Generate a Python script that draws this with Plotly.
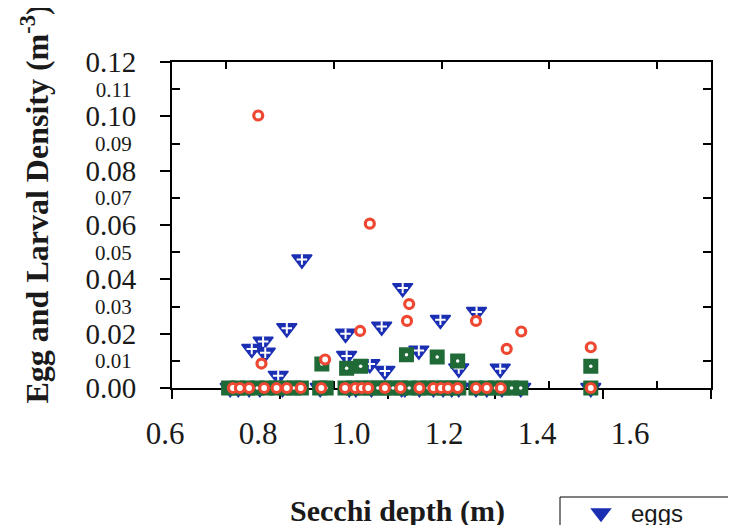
import plotly.graph_objects as go

# ---------------- data ----------------
# Eggs (blue down-triangles)
egg_secchi = [0.748, 0.769, 0.773, 0.797, 0.813, 0.841, 0.922, 0.924, 0.967, 0.989,
              0.995, 1.028, 1.058, 1.098, 1.132, 1.165, 1.209,
              0.708, 0.723, 0.743, 0.763, 0.805, 0.875, 0.929, 0.941, 0.970, 1.026,
              1.032, 1.059, 1.085, 1.103, 1.119, 1.132, 1.164, 1.184, 1.212, 1.247, 1.377]
egg_density = [0.0144, 0.0171, 0.0130, 0.0045, 0.0220, 0.0473, 0.0200, 0.0118, 0.0088, 0.0226,
               0.0063, 0.0368, 0.0138, 0.0251, 0.0072, 0.0280, 0.0071,
               0, 0, 0, 0, 0, 0, 0, 0, 0, 0,
               0, 0, 0, 0, 0, 0, 0, 0, 0, 0, 0]

# Green squares
sq_secchi = [0.878, 0.924, 0.950, 1.035, 1.092, 1.130, 1.377,
             0.705, 0.722, 0.740, 0.758, 0.776, 0.794, 0.810, 0.826, 0.840, 0.874, 0.886,
             0.921, 0.937, 0.952, 0.967, 0.982, 0.995, 1.010, 1.024, 1.040, 1.059, 1.075,
             1.090, 1.105, 1.118, 1.132, 1.164, 1.184, 1.200, 1.215, 1.230, 1.247, 1.377]
sq_density = [0.0088, 0.0073, 0.0080, 0.0122, 0.0114, 0.0099, 0.0080,
              0, 0, 0, 0, 0, 0, 0, 0, 0, 0, 0,
              0, 0, 0, 0, 0, 0, 0, 0, 0, 0, 0,
              0, 0, 0, 0, 0, 0, 0, 0, 0, 0, 0]

# Red open circles
circ_secchi = [0.760, 0.766, 0.884, 0.949, 0.967, 1.036, 1.040, 1.164, 1.221, 1.248, 1.377,
               0.713, 0.726, 0.743, 0.771, 0.794, 0.813, 0.839, 0.877, 0.921, 0.940, 0.952,
               0.964, 0.995, 1.024, 1.059, 1.085, 1.099, 1.112, 1.130, 1.164, 1.184, 1.210, 1.377]
circ_density = [0.1003, 0.0090, 0.0105, 0.0210, 0.0605, 0.0247, 0.0309, 0.0247, 0.0144, 0.0208, 0.0150,
                0, 0, 0, 0, 0, 0, 0, 0, 0, 0, 0,
                0, 0, 0, 0, 0, 0, 0, 0, 0, 0, 0, 0]

x_major = [0.6, 0.8, 1.0, 1.2, 1.4, 1.6]
x_major_text = ["0.6", "0.8", "1.0", "1.2", "1.4", "1.6"]
x_minor = [0.7, 0.9, 1.1, 1.3, 1.5]
y_major = [0.00, 0.02, 0.04, 0.06, 0.08, 0.10, 0.12]
y_major_text = ["0.00", "0.02", "0.04", "0.06", "0.08", "0.10", "0.12"]
y_minor = [0.01, 0.03, 0.05, 0.07, 0.09, 0.11]
y_minor_text = ["0.01", "0.03", "0.05", "0.07", "0.09", "0.11"]

# ---------------- layout geometry ----------------
# Target positions below are in screen pixels; the page body adds an 8px offset.
W, H = 736, 525
OFF = 8
SL, SR, ST, SB = 150, 711, 8, 400            # paper box on screen
FX0, FX1, FY0, FY1 = 172, 711, 62, 388      # frame left, right, top, bottom (screen)
LX0, LX1 = 165, 630                          # where x tick labels 0.6 / 1.6 sit (screen)
ML, MR, MT, MB = SL - OFF, W - (SR - OFF), ST - OFF, H - (SB - OFF)
PW, PH = W - ML - MR, H - MT - MB


def xd(px):
    return (px - OFF - ML) / PW


def yd(py):
    return (H - MB - (py - OFF)) / PH


BLUE = "#1b2fb3"
GREEN = "#1f6a36"
RED = "#ee4732"
SERIF = "Liberation Serif"
INK = "#1a1a1a"

fig = go.Figure()

fig.add_trace(go.Scatter(
    x=egg_secchi, y=egg_density, mode="markers", name="eggs", cliponaxis=False,
    marker=dict(symbol="triangle-down", size=17.5, color=BLUE, line=dict(color=BLUE, width=1.5))))
fig.add_trace(go.Scatter(
    x=egg_secchi, y=egg_density, mode="markers", showlegend=False, hoverinfo="skip", cliponaxis=False,
    marker=dict(symbol="cross-thin", size=7.5, color="white", line=dict(color="white", width=2))))
fig.add_trace(go.Scatter(
    x=sq_secchi, y=sq_density, mode="markers", name="post-yolk-sac larvae", showlegend=False,
    cliponaxis=False,
    marker=dict(symbol="square", size=13.5, color=GREEN, line=dict(color=GREEN, width=1.5))))
fig.add_trace(go.Scatter(
    x=sq_secchi, y=sq_density, mode="markers", showlegend=False, hoverinfo="skip", cliponaxis=False,
    marker=dict(symbol="circle", size=3.5, color="white", line=dict(width=0))))
fig.add_trace(go.Scatter(
    x=circ_secchi, y=circ_density, mode="markers", name="yolk-sac larvae", showlegend=False,
    cliponaxis=False,
    marker=dict(symbol="circle", size=9, color="white", line=dict(color=RED, width=3.2))))

# empty helper traces so the auxiliary axes are laid out
for xa, ya in (("x2", "y"), ("x3", "y"), ("x", "y2"), ("x", "y3")):
    fig.add_trace(go.Scatter(x=[], y=[], xaxis=xa, yaxis=ya, showlegend=False, hoverinfo="skip"))

common = dict(showgrid=False, zeroline=False, automargin=False, linecolor="black",
              tickcolor="black")

fig.update_layout(
    template="none",
    width=W, height=H, autosize=False,
    margin=dict(l=ML, r=MR, t=MT, b=MB, pad=0, autoexpand=False),
    paper_bgcolor="white", plot_bgcolor="rgba(0,0,0,0)",
    xaxis=dict(domain=[xd(FX0), xd(FX1)], range=[0.6, 1.6], anchor="y", layer="below traces",
               tickmode="array", tickvals=x_major, ticks="outside", ticklen=9, tickwidth=2,
               showticklabels=False, showline=True, linewidth=2,
               minor=dict(tickmode="array", tickvals=x_minor, ticks="inside", ticklen=7,
                          tickwidth=2, tickcolor="black"),
               **common),
    xaxis3=dict(overlaying="x", side="top", anchor="y", range=[0.6, 1.6],
                tickmode="array", tickvals=x_minor, ticks="inside", ticklen=7, tickwidth=2,
                showticklabels=False, showline=True, linewidth=2, **common),
    xaxis2=dict(domain=[xd(LX0), xd(LX1)], anchor="y", range=[0.6, 1.6],
                tickmode="array", tickvals=x_major, ticktext=x_major_text, ticks="",
                showline=False, ticklabelstandoff=24,
                tickfont=dict(family=SERIF, size=31, color=INK),
                title=dict(text="Secchi depth (m)", standoff=49,
                           font=dict(family=SERIF, size=30, color=INK, weight="bold")),
                **common),
    yaxis=dict(domain=[yd(FY1), yd(FY0)], range=[0, 0.12], anchor="x", layer="below traces",
               tickmode="array", tickvals=y_major, ticktext=y_major_text,
               ticks="outside", ticklen=10, tickwidth=2, showline=True, linewidth=2,
               ticklabelstandoff=18,
               tickfont=dict(family=SERIF, size=29, color=INK), **common),
    yaxis2=dict(overlaying="y", anchor="x", side="left", range=[0, 0.12],
                tickmode="array", tickvals=y_minor, ticktext=y_minor_text,
                ticks="inside", ticklen=8, tickwidth=2, showline=True, linewidth=2,
                mirror="ticks", ticklabelstandoff=34,
                tickfont=dict(family=SERIF, size=21, color=INK), **common),
    yaxis3=dict(domain=[0, 1], anchor="free", position=0, range=[0, 1],
                showline=False, ticks="", showticklabels=False,
                title=dict(text="Egg and Larval Density (m<sup>-3</sup>)", standoff=90,
                           font=dict(family=SERIF, size=32, color=INK, weight="bold")),
                **common),
    legend=dict(xref="container", yref="container", x=(571 - OFF) / W, y=1 - (491 - OFF) / H,
                xanchor="left", yanchor="top", bgcolor="rgba(0,0,0,0)",
                borderwidth=0, itemwidth=50,
                font=dict(family="Liberation Sans", size=24, color=INK)),
    showlegend=True,
    shapes=[dict(type="rect", xref="paper", yref="paper",
                 x0=xd(560), x1=xd(760), y0=yd(545), y1=yd(497),
                 line=dict(color="black", width=1), fillcolor="rgba(0,0,0,0)", layer="below")],
)

fig.write_html("out.html")
